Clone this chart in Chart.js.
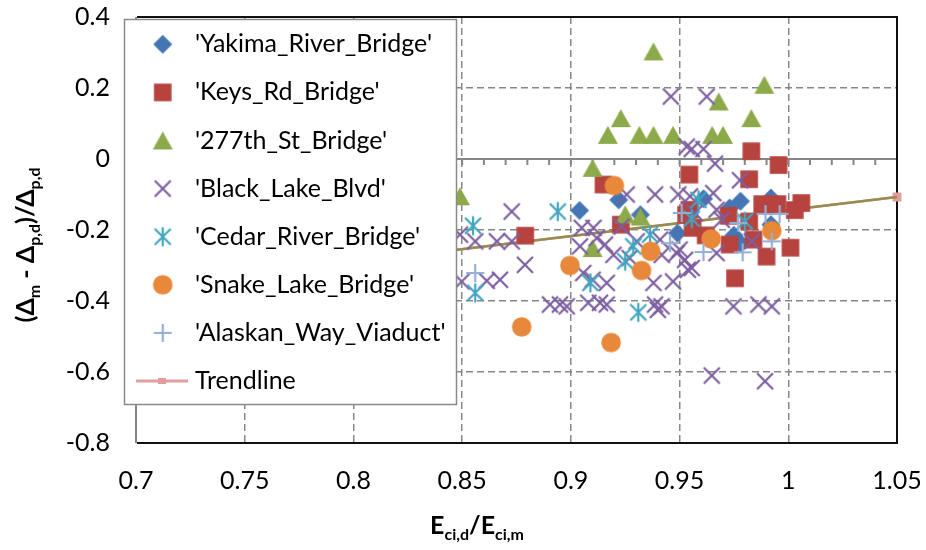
<!DOCTYPE html>
<html>
<head>
<meta charset="utf-8">
<script src="https://cdn.jsdelivr.net/npm/chart.js@4/dist/chart.umd.min.js"></script>
<style>
  html, body { margin: 0; padding: 0; background: #fff; }
</style>
</head>
<body>
<canvas id="chart" width="926" height="550"></canvas>
<script>
// --- axis ticks ---
const xTicks = [0.7, 0.75, 0.8, 0.85, 0.9, 0.95, 1, 1.05];
const yTicks = [-0.8, -0.6, -0.4, -0.2, 0, 0.2, 0.4];

// --- series (x = Eci,d/Eci,m , y = (Δm - Δp,d)/Δp,d) ---
const yakimaX = [0.904, 0.922, 0.932, 0.949, 0.961, 0.973, 0.978, 0.992, 0.978, 0.992, 0.975];
const yakimaY = [-0.145, -0.115, -0.157, -0.209, -0.112, -0.138, -0.119, -0.110, -0.237, -0.185, -0.215];

const keysX = [0.879, 0.915, 0.923, 0.9545, 0.9545, 0.956, 0.983, 0.9955, 0.982, 0.988, 0.995, 1.006, 1.003, 0.9725, 0.982, 0.973, 0.984, 0.990, 1.001, 0.9755, 0.953, 0.962];
const keysY = [-0.216, -0.072, -0.185, -0.044, -0.143, -0.194, 0.022, -0.017, -0.057, -0.127, -0.127, -0.124, -0.144, -0.160, -0.176, -0.241, -0.227, -0.275, -0.250, -0.336, -0.157, -0.215];

const stX = [0.849, 0.910, 0.910, 0.917, 0.923, 0.925, 0.932, 0.9315, 0.938, 0.938, 0.947, 0.965, 0.970, 0.968, 0.983, 0.989];
const stY = [-0.105, -0.025, -0.251, 0.068, 0.115, -0.156, -0.162, 0.068, 0.068, 0.303, 0.068, 0.068, 0.068, 0.162, 0.115, 0.209];

const blackX = [0.946, 0.9625, 0.9533, 0.9556, 0.961, 0.9663, 0.9778, 0.9257, 0.9387, 0.9494, 0.9655, 0.9548,
  0.8728, 0.849, 0.856, 0.866, 0.8728, 0.8789, 0.8498, 0.8613, 0.8674, 0.905, 0.9104, 0.9234, 0.9119, 0.9042,
  0.9157, 0.9196, 0.9303, 0.941, 0.9418, 0.9057, 0.910, 0.9165, 0.938, 0.947, 0.9487, 0.9525, 0.9538, 0.950,
  0.8904, 0.895, 0.8981, 0.908, 0.9134, 0.9165, 0.9387, 0.9417, 0.940, 0.957, 0.9694, 0.967, 0.9556, 0.9832,
  0.9748, 0.9863, 0.9924, 0.9648, 0.9893, 0.927, 0.967];
const blackY = [0.176, 0.176, 0.035, 0.028, 0.028, -0.013, -0.060, -0.100, -0.100, -0.100, -0.096, -0.105,
  -0.148, -0.213, -0.232, -0.232, -0.232, -0.298, -0.345, -0.343, -0.340, -0.194, -0.194, -0.190, -0.223, -0.246,
  -0.241, -0.270, -0.232, -0.227, -0.270, -0.321, -0.340, -0.349, -0.349, -0.345, -0.265, -0.284, -0.312, -0.255,
  -0.410, -0.410, -0.415, -0.405, -0.405, -0.410, -0.410, -0.415, -0.425, -0.152, -0.171, -0.265, -0.307, -0.232,
  -0.415, -0.410, -0.415, -0.610, -0.626, -0.279, -0.143];

const cedarX = [0.855, 0.856, 0.894, 0.909, 0.925, 0.9287, 0.9364, 0.931, 0.9556, 0.9587, 0.980];
const cedarY = [-0.188, -0.377, -0.148, -0.349, -0.288, -0.246, -0.213, -0.432, -0.168, -0.115, -0.176];

const snakeX = [0.8774, 0.8996, 0.9185, 0.920, 0.9325, 0.9367, 0.9645, 0.9924];
const snakeY = [-0.473, -0.300, -0.517, -0.075, -0.314, -0.260, -0.225, -0.202];

const alaskanX = [0.856, 0.9456, 0.951, 0.961, 0.979, 0.977, 0.9895, 0.996, 0.9924];
const alaskanY = [-0.321, -0.237, -0.152, -0.262, -0.263, -0.180, -0.155, -0.155, -0.232];

const trendX = [0.7, 1.05];
const trendY = [-0.364, -0.107];

const seriesNames = ["'Yakima_River_Bridge'", "'Keys_Rd_Bridge'", "'277th_St_Bridge'", "'Black_Lake_Blvd'",
  "'Cedar_River_Bridge'", "'Snake_Lake_Bridge'", "'Alaskan_Way_Viaduct'"];
const seriesX = [yakimaX, keysX, stX, blackX, cedarX, snakeX, alaskanX];
const seriesY = [yakimaY, keysY, stY, blackY, cedarY, snakeY, alaskanY];
const seriesShapes = ['diamond', 'square', 'triangle', 'x', 'star', 'circle', 'plus'];
const seriesColors = ['#4675B4', '#B7433F', '#8DAA4B', '#7D5FA1', '#41A6BF', '#E8883A', '#93AFD8'];

const fontFamily = 'Lato, "Open Sans", sans-serif';

function toPoints(xs, ys) {
  return xs.map((x, i) => ({ x: x, y: ys[i] }));
}

// markers drawn like the Excel ones
function makeMarker(shape, color) {
  const s = 24, m = s / 2;
  const c = document.createElement('canvas');
  c.width = s; c.height = s;
  const g = c.getContext('2d');
  g.fillStyle = color; g.strokeStyle = color; g.lineWidth = 2.2;
  g.beginPath();
  if (shape === 'diamond') {
    g.moveTo(m, m - 9.5); g.lineTo(m + 9.5, m); g.lineTo(m, m + 9.5); g.lineTo(m - 9.5, m);
    g.closePath(); g.fill();
  } else if (shape === 'square') {
    g.fillRect(m - 8.8, m - 8.8, 17.6, 17.6);
  } else if (shape === 'triangle') {
    g.moveTo(m, m - 9); g.lineTo(m + 10, m + 9); g.lineTo(m - 10, m + 9);
    g.closePath(); g.fill();
  } else if (shape === 'circle') {
    g.arc(m, m, 9.8, 0, Math.PI * 2); g.fill();
  } else {
    const d = 8;
    if (shape === 'x' || shape === 'star') {
      g.moveTo(m - d, m - d); g.lineTo(m + d, m + d);
      g.moveTo(m + d, m - d); g.lineTo(m - d, m + d);
    }
    if (shape === 'star') { g.moveTo(m, m - 9.5); g.lineTo(m, m + 9.5); }
    if (shape === 'plus') { g.moveTo(m - 9, m); g.lineTo(m + 9, m); g.moveTo(m, m - 9); g.lineTo(m, m + 9); }
    g.stroke();
  }
  return c;
}

const datasets = seriesNames.map((name, i) => ({
  label: name,
  data: toPoints(seriesX[i], seriesY[i]),
  pointStyle: makeMarker(seriesShapes[i], seriesColors[i]),
  pointRadius: 10,
  borderColor: seriesColors[i],
  backgroundColor: seriesColors[i],
  order: 10 - i,
  inLegend: true
}));

// trendline: pink series with olive line over it
datasets.push({
  label: 'Trendline',
  data: toPoints(trendX, trendY),
  showLine: true,
  borderColor: '#E29E9C',
  backgroundColor: '#E29E9C',
  borderWidth: 2.5,
  pointStyle: 'rect',
  pointRadius: 4.5,
  clip: false,
  order: 21,
  inLegend: true,
  isTrend: true
});
datasets.push({
  label: '',
  data: toPoints(trendX, trendY),
  showLine: true,
  borderColor: '#968C4E',
  borderWidth: 2.5,
  pointRadius: 0,
  order: 20
});

// zero axis, plot frame
const framePlugin = {
  id: 'frame',
  beforeDatasetsDraw(chart) {
    const { ctx, chartArea: a, scales: { x, y } } = chart;
    ctx.save();
    const y0 = y.getPixelForValue(0);
    ctx.strokeStyle = '#868686';
    ctx.lineWidth = 2;
    ctx.beginPath();
    ctx.moveTo(a.left, y0); ctx.lineTo(a.right, y0);
    for (let k = 1; k <= 35; k++) {
      const px = x.getPixelForValue(0.7 + k * 0.01);
      ctx.moveTo(px, y0); ctx.lineTo(px, y0 + 6);
    }
    ctx.stroke();
    // left axis
    ctx.beginPath();
    ctx.moveTo(a.left, a.top); ctx.lineTo(a.left, a.bottom);
    ctx.stroke();
    // black border top/right/bottom
    ctx.strokeStyle = '#111';
    ctx.beginPath();
    ctx.moveTo(a.left + 1, a.top); ctx.lineTo(a.right, a.top);
    ctx.lineTo(a.right, a.bottom); ctx.lineTo(a.left + 1, a.bottom);
    ctx.stroke();
    ctx.restore();
  }
};

function drawRich(ctx, parts, size, bold) {
  const w = bold ? 'bold ' : '';
  const big = w + size + 'px ' + fontFamily;
  const small = w + Math.round(size * 0.64) + 'px ' + fontFamily;
  let total = 0;
  parts.forEach(p => { ctx.font = p.sub ? small : big; p.w = ctx.measureText(p.t).width; total += p.w; });
  let cx = -total / 2;
  parts.forEach(p => {
    ctx.font = p.sub ? small : big;
    ctx.fillText(p.t, cx, p.sub ? size * 0.24 : 0);
    cx += p.w;
  });
}

const titlePlugin = {
  id: 'titles',
  afterDraw(chart) {
    const ctx = chart.ctx;
    ctx.save();
    ctx.fillStyle = '#000';
    ctx.textBaseline = 'alphabetic';
    ctx.textAlign = 'left';
    ctx.translate(477, 534);
    drawRich(ctx, [{ t: 'E' }, { t: 'ci,d', sub: true }, { t: '/E' }, { t: 'ci,m', sub: true }], 25, true);
    ctx.restore();

    ctx.save();
    ctx.fillStyle = '#000';
    ctx.textBaseline = 'alphabetic';
    ctx.textAlign = 'left';
    ctx.translate(34, 245);
    ctx.rotate(-Math.PI / 2);
    drawRich(ctx, [{ t: '(Δ' }, { t: 'm', sub: true }, { t: ' - Δ' }, { t: 'p,d', sub: true },
      { t: ')/Δ' }, { t: 'p,d', sub: true }], 25, true);
    ctx.restore();
  }
};

const legendPlugin = {
  id: 'boxLegend',
  afterDraw(chart) {
    const ctx = chart.ctx;
    ctx.save();
    ctx.fillStyle = '#fff';
    ctx.fillRect(124, 19, 333, 386);
    ctx.strokeStyle = '#8a8a8a';
    ctx.lineWidth = 1.5;
    ctx.strokeRect(124.5, 19.5, 332, 385);
    ctx.font = '25px ' + fontFamily;
    ctx.textBaseline = 'middle';
    ctx.textAlign = 'left';
    const items = chart.data.datasets.filter(d => d.inLegend);
    items.forEach((d, i) => {
      const ry = 44.3 + i * 48.1;
      if (d.isTrend) {
        ctx.strokeStyle = d.borderColor;
        ctx.lineWidth = 3;
        ctx.beginPath(); ctx.moveTo(136, ry); ctx.lineTo(188, ry); ctx.stroke();
        ctx.fillStyle = d.backgroundColor;
        ctx.fillRect(158, ry - 3, 8, 6);
      } else {
        const img = d.pointStyle;
        ctx.drawImage(img, 162.7 - img.width / 2, ry - img.height / 2);
      }
      ctx.fillStyle = '#000';
      ctx.fillText(d.label, 195, ry);
    });
    ctx.restore();
  }
};

const gridColor = (vals) => (c) => (c.tick && vals.includes(c.tick.value)) ? 'rgba(0,0,0,0)' : '#878787';

new Chart(document.getElementById('chart'), {
  type: 'scatter',
  data: { datasets },
  options: {
    responsive: false,
    animation: false,
    events: [],
    layout: { padding: { top: 17, right: 29, bottom: 0, left: 0 } },
    plugins: { legend: { display: false }, tooltip: { enabled: false } },
    scales: {
      x: {
        type: 'linear', min: 0.7, max: 1.05,
        afterBuildTicks: (s) => { s.ticks = xTicks.map(v => ({ value: v })); },
        afterFit: (s) => { s.height = 107; },
        grid: { color: gridColor([0.7, 1.05]), lineWidth: 1.5, drawTicks: true, tickLength: 23, tickColor: 'rgba(0,0,0,0)' },
        border: { display: false, dash: [7, 4] },
        ticks: {
          padding: 0, color: '#000', font: { family: fontFamily, size: 25 },
          maxRotation: 0, autoSkip: false,
          callback: (v) => String(Math.round(v * 100) / 100)
        }
      },
      y: {
        type: 'linear', min: -0.8, max: 0.4,
        afterBuildTicks: (s) => { s.ticks = yTicks.map(v => ({ value: v })); },
        afterFit: (s) => { s.width = 136; },
        grid: { color: gridColor([0.4, 0, -0.8]), lineWidth: 1.5, drawTicks: true, tickLength: 26, tickColor: 'rgba(0,0,0,0)' },
        border: { display: false, dash: [7, 4] },
        ticks: {
          padding: 0, color: '#000', font: { family: fontFamily, size: 25 },
          autoSkip: false,
          callback: (v) => String(Math.round(v * 10) / 10)
        }
      }
    }
  },
  plugins: [framePlugin, titlePlugin, legendPlugin]
});
</script>
</body>
</html>
